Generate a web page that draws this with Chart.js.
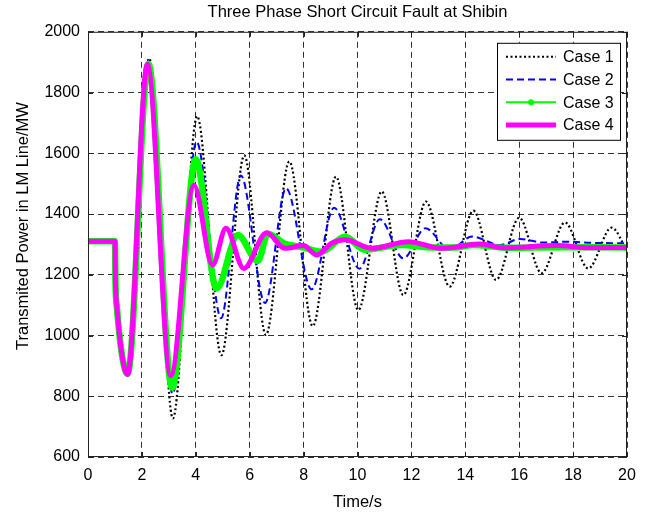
<!DOCTYPE html>
<html>
<head>
<meta charset="utf-8">
<title>Three Phase Short Circuit Fault at Shibin</title>
<script src="https://cdn.jsdelivr.net/npm/chart.js@4.4.1/dist/chart.umd.min.js"></script>
<style>
  html, body { margin: 0; padding: 0; background: #fff; }
  #wrap { width: 650px; height: 514px; position: relative; }
</style>
</head>
<body>
<div id="wrap"><canvas id="chart"></canvas></div>
<script>
/* globals Chart:false */
const caseNames = ['Case 1', 'Case 2', 'Case 3', 'Case 4']

// time (s) and transmitted power (MW)
const case1Time = [0, 1.0, 1.02, 1.07, 1.47, 2.27, 3.15, 4.05, 4.95, 5.8, 6.6, 7.47, 8.34, 9.2, 10.03, 10.9, 11.7, 12.54, 13.42, 14.3, 15.14, 16.0, 16.83, 17.7, 18.56, 19.43, 20]
const case1Power = [1310, 1310, 1175, 1095, 870, 1913, 727, 1722, 935, 1593, 1002, 1573, 1031, 1523, 1084, 1474, 1133, 1441, 1161, 1411, 1183, 1388, 1205, 1372, 1221, 1355, 1280]

const case2Time = [0, 1.0, 1.02, 1.07, 1.47, 2.25, 3.14, 4.03, 4.94, 5.67, 6.57, 7.35, 8.3, 9.13, 10.07, 10.83, 11.7, 12.52, 13.42, 14.25, 15.29, 16.03, 16.9, 17.8, 18.7, 20]
const case2Power = [1310, 1310, 1175, 1095, 872, 1905, 808, 1638, 1057, 1527, 1107, 1485, 1152, 1421, 1220, 1383, 1254, 1353, 1283, 1326, 1298, 1318, 1306, 1309, 1305, 1304]

const case3Time = [0, 1.0, 1.02, 1.07, 1.47, 2.24, 3.12, 4.0, 4.77, 5.56, 6.3, 6.67, 7.31, 7.9, 8.67, 9.54, 10.28, 11.6, 12.8, 13.6, 14.3, 15.5, 17.5, 20]
const case3Power = [1310, 1310, 1175, 1095, 874, 1895, 828, 1580, 1155, 1331, 1245, 1335, 1302, 1292, 1276, 1325, 1282, 1298, 1290, 1290, 1298, 1289, 1291, 1290]

const case4Time = [0, 1.0, 1.02, 1.07, 1.47, 2.2, 3.07, 3.93, 4.62, 5.12, 5.78, 6.63, 7.31, 7.99, 8.49, 9.04, 9.54, 10.53, 11.89, 13.12, 14.55, 15.4, 17.4, 18.6, 20]
const case4Power = [1310, 1310, 1175, 1095, 872, 1892, 868, 1495, 1232, 1353, 1221, 1338, 1287, 1296, 1265, 1304, 1315, 1287, 1309, 1287, 1301, 1289, 1296, 1289, 1290]

const xTickStep = 2
const yTickStep = 200

function toPoints(t, p) {
    return t.map((x, i) => ({x: x, y: p[i]}))
}

const fontFamily = 'Arial, "Liberation Sans", sans-serif'
Chart.defaults.font.family = fontFamily
Chart.defaults.color = '#000'

const legendWidths = [2, 2, 2, 5]

const framePlugin = {
    id: 'frame',
    afterDraw(chart) {
        const ctx = chart.ctx
        const a = chart.chartArea
        const xs = chart.scales.x
        const ys = chart.scales.y
        ctx.save()
        ctx.strokeStyle = '#222'
        ctx.lineWidth = 1
        ctx.setLineDash([])
        ctx.strokeRect(a.left + 0.5, a.top + 0.5, a.right - a.left - 1, a.bottom - a.top - 1)
        // small inward ticks like the original
        ctx.beginPath()
        xs.ticks.forEach((t) => {
            const px = Math.round(xs.getPixelForValue(t.value)) + 0.5
            ctx.moveTo(px, a.bottom); ctx.lineTo(px, a.bottom - 5)
            ctx.moveTo(px, a.top); ctx.lineTo(px, a.top + 5)
        })
        ys.ticks.forEach((t) => {
            const py = Math.round(ys.getPixelForValue(t.value)) + 0.5
            ctx.moveTo(a.left, py); ctx.lineTo(a.left + 5, py)
            ctx.moveTo(a.right, py); ctx.lineTo(a.right - 5, py)
        })
        ctx.stroke()

        // y axis label
        ctx.save()
        ctx.translate(23.5, 226)
        ctx.rotate(-Math.PI / 2)
        ctx.font = '16.5px ' + fontFamily
        ctx.fillStyle = '#000'
        ctx.textAlign = 'center'
        ctx.textBaseline = 'middle'
        ctx.fillText('Transmited Power in LM Line/MW', 0, 0)
        ctx.restore()

        // legend box
        const bw = 123, bh = 97
        const bx = a.right - 7 - bw
        const by = a.top + 11
        ctx.fillStyle = '#fff'
        ctx.fillRect(bx, by, bw, bh)
        ctx.strokeStyle = '#000'
        ctx.lineWidth = 1
        ctx.strokeRect(bx + 0.5, by + 0.5, bw, bh)
        ctx.font = '16px ' + fontFamily
        ctx.textAlign = 'left'
        ctx.textBaseline = 'middle'
        chart.data.datasets.forEach((ds, i) => {
            const y = by + 14 + i * 22.7
            ctx.beginPath()
            ctx.setLineDash(ds.borderDash || [])
            ctx.lineWidth = legendWidths[i]
            ctx.strokeStyle = ds.borderColor
            ctx.moveTo(bx + 9, y)
            ctx.lineTo(bx + 59, y)
            ctx.stroke()
            ctx.setLineDash([])
            if (i === 2) {
                ctx.beginPath()
                ctx.fillStyle = ds.borderColor
                ctx.arc(bx + 34, y, 3, 0, Math.PI * 2)
                ctx.fill()
            }
            ctx.fillStyle = '#000'
            ctx.fillText(ds.label, bx + 66, y + 1)
        })
        ctx.restore()
    }
}

const datasets = [
    {
        label: caseNames[0],
        data: toPoints(case1Time, case1Power),
        borderColor: '#000000',
        borderWidth: 2.2,
        borderDash: [2, 2.5],
        order: 3,
    },
    {
        label: caseNames[1],
        data: toPoints(case2Time, case2Power),
        borderColor: '#0000ff',
        borderWidth: 2,
        borderDash: [7, 4],
        order: 2,
    },
    {
        label: caseNames[2],
        data: toPoints(case3Time, case3Power),
        borderColor: '#00ff00',
        borderWidth: 6.5,
        order: 1,
    },
    {
        label: caseNames[3],
        data: toPoints(case4Time, case4Power),
        borderColor: '#ff00ff',
        borderWidth: 5,
        order: 0,
    },
]
datasets.forEach((ds) => {
    ds.pointRadius = 0
    ds.fill = false
    ds.cubicInterpolationMode = 'monotone'
    ds.backgroundColor = 'transparent'
})

const gridOpts = {
    color: 'rgba(0,0,0,0.8)',
    lineWidth: 1,
    drawTicks: false,
    borderDash: [6, 4],
}

new Chart(document.getElementById('chart'), {
    type: 'line',
    data: {datasets: datasets},
    options: {
        responsive: true,
        maintainAspectRatio: false,
        animation: false,
        layout: {padding: {left: 0, right: 23, top: 0, bottom: 0}},
        plugins: {
            legend: {display: false},
            tooltip: {enabled: false},
            title: {
                display: true,
                text: 'Three Phase Short Circuit Fault at Shibin',
                fullSize: false,
                color: '#000',
                font: {size: 16.5, weight: 'normal'},
                padding: {top: 3, bottom: 9},
            },
        },
        scales: {
            x: {
                type: 'linear',
                min: 0,
                max: 20,
                ticks: {stepSize: xTickStep, padding: 9, font: {size: 16}, color: '#000', callback: (v) => String(v)},
                grid: gridOpts,
                border: {display: false, dash: [6, 4]},
                title: {display: true, text: 'Time/s', font: {size: 16.5}, color: '#000', padding: {top: 0, bottom: 2}},
                afterFit(scale) { scale.height = 57 },
            },
            y: {
                min: 600,
                max: 2000,
                ticks: {stepSize: yTickStep, padding: 8, font: {size: 16}, color: '#000', callback: (v) => String(v)},
                grid: gridOpts,
                border: {display: false, dash: [6, 4]},
                afterFit(scale) { scale.width = 88 },
            },
        },
    },
    plugins: [framePlugin],
})
</script>
</body>
</html>
